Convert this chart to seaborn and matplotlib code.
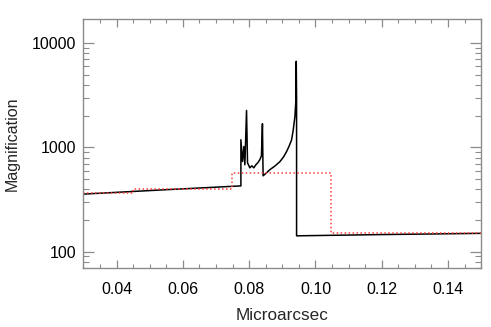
"""
Microlensing magnification vs. source position: caustic crossing light curve
with the coarse binned model overlaid (red dotted).
"""
import numpy as np
import pandas as pd
import matplotlib
matplotlib.use("Agg")
import matplotlib.pyplot as plt
import matplotlib.ticker as mticker
import seaborn as sns

sns.set_style("ticks")
plt.rcParams["font.family"] = ["Liberation Sans", "DejaVu Sans"]

# ---- data ----
# fine-resolution magnification curve (black)
mas_fine = [0.0300, 0.0540, 0.0775, 0.0775, 0.0780, 0.0784, 0.0787, 0.0792, 0.0795,
            0.0802, 0.0808, 0.0814, 0.0820, 0.0826, 0.0832, 0.0837, 0.0840, 0.0842,
            0.0852, 0.0862, 0.0878, 0.0893, 0.0904, 0.0913, 0.0921, 0.0928, 0.0933,
            0.0938, 0.0941, 0.0942, 0.0943, 0.0943, 0.1200, 0.1500]
mag_fine = [357, 392, 428, 1186, 733, 1022, 682, 2268, 713,
            638, 667, 638, 682, 713, 762, 832, 1690, 535,
            570, 611, 665, 733, 815, 915, 1040, 1186, 1479,
            1986, 2877, 6714, 3000, 142, 146, 150]

# coarse binned model (red dotted step)
mas_bin = [0.0300, 0.0448, 0.0749, 0.1048, 0.1500]
mag_bin = [365, 398, 575, 150, 150]

fine = pd.DataFrame({"mas": mas_fine, "mag": mag_fine})
binned = pd.DataFrame({"mas": mas_bin, "mag": mag_bin})

fig = plt.figure(figsize=(4.91, 3.27), dpi=100)
ax = fig.add_axes([0.170, 0.1795, 0.810, 0.7625])

sns.lineplot(data=fine, x="mas", y="mag", sort=False, estimator=None,
             color="black", linewidth=1.1, ax=ax)
sns.lineplot(data=binned, x="mas", y="mag", sort=False, estimator=None,
             color="#ff3b3b", linewidth=1.1, linestyle=(0, (1, 1.6)),
             drawstyle="steps-post", ax=ax)

ax.set_yscale("log")
ax.set_xlim(0.03, 0.15)
ax.set_ylim(69.3, 17100)

ax.xaxis.set_major_locator(mticker.FixedLocator([0.04, 0.06, 0.08, 0.10, 0.12, 0.14]))
ax.xaxis.set_major_formatter(mticker.FormatStrFormatter("%.2f"))
ax.xaxis.set_minor_locator(mticker.MultipleLocator(0.005))
ax.yaxis.set_major_locator(mticker.FixedLocator([100, 1000, 10000]))
ax.yaxis.set_major_formatter(mticker.FuncFormatter(lambda v, p: f"{v:.0f}"))
ax.yaxis.set_minor_locator(mticker.LogLocator(base=10, subs=np.arange(2, 10)))
ax.yaxis.set_minor_formatter(mticker.NullFormatter())

edge = "#8c8c8c"
for sp in ax.spines.values():
    sp.set_color(edge)
    sp.set_linewidth(1.0)
    sp.set_visible(True)

ax.tick_params(which="both", direction="in", top=True, right=True,
               color=edge, labelsize=11.5, labelcolor="black")
ax.tick_params(axis="x", which="major", length=6, width=0.9, pad=10)
ax.tick_params(axis="x", which="minor", length=3, width=0.8)
ax.tick_params(axis="y", which="major", length=8, width=0.9, pad=5)
ax.tick_params(axis="y", which="minor", length=4, width=0.8)

ax.set_xlabel("Microarcsec", fontsize=12.3, labelpad=8)
ax.set_ylabel("Magnification", fontsize=11.5, labelpad=9)

plt.savefig("out.png", dpi=100)
plt.close()
